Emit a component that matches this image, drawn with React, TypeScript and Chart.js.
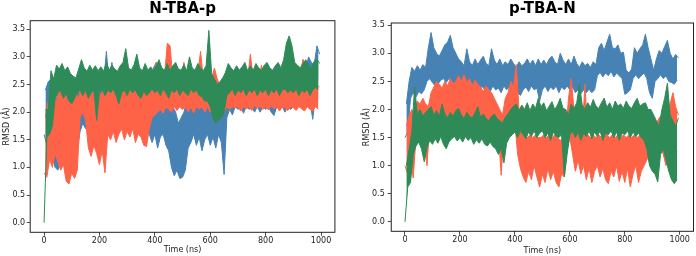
import React, { useEffect, useRef } from "react";
import { Chart, registerables } from "chart.js";
Chart.register(...registerables);
Chart.defaults.font.family = "'DejaVu Sans', sans-serif";

// sampling grid (ns): each bin holds the low and high value
const times = Array.from({ length: 100 }, (_, i) => i * 10);
const xTickValues = [0, 200, 400, 600, 800, 1000];
const yTickValues = [0, 0.5, 1, 1.5, 2, 2.5, 3, 3.5];

// ---- N-TBA-p ----
const ntbaBlueLow = [
  1.6, 1.4, 1.8, 1.2, 1.0, 0.95, 1.15, 1.4, 1.55, 1.6,
  1.8, 1.45, 1.3, 1.65, 1.8, 1.7, 1.85, 1.9, 1.75, 1.9,
  1.8, 1.95, 1.9, 1.85, 2.0, 1.9, 2.0, 1.85, 2.0, 1.95,
  2.0, 1.9, 1.95, 1.85, 2.0, 1.9, 1.75, 1.7, 1.6, 1.45,
  1.6, 1.35, 1.55, 1.6, 1.4, 1.3, 1.0, 0.85, 0.95, 0.8,
  0.82, 0.95, 1.35, 1.45, 1.6, 1.4, 1.55, 1.3, 1.5, 1.6,
  1.4, 1.55, 1.35, 1.6, 1.45, 0.87, 1.9, 2.05, 1.95, 2.1,
  2.05, 2.1, 1.98, 2.1, 2.05, 2.1, 2.0, 2.1, 2.0, 2.1,
  2.05, 2.1, 2.0, 1.94, 2.1, 2.05, 2.1, 2.0, 2.1, 2.05,
  2.1, 2.15, 2.2, 2.2, 2.25, 2.3, 2.2, 1.87, 2.3, 2.35,
];
const ntbaBlueHigh = [
  2.4, 2.55, 2.6, 2.3, 2.25, 2.45, 2.5, 2.3, 2.55, 2.4,
  2.6, 2.5, 2.4, 2.3, 2.45, 2.5, 2.4, 2.45, 2.5, 2.4,
  2.45, 2.5, 3.1, 2.5, 2.9, 2.5, 2.5, 2.55, 2.8, 2.5,
  2.6, 2.5, 2.55, 2.5, 2.6, 2.5, 2.55, 2.5, 2.6, 2.8,
  2.9, 2.4, 2.45, 2.35, 2.4, 2.3, 2.1, 2.0, 1.8, 1.9,
  2.0, 2.2, 2.3, 2.35, 2.4, 2.3, 2.35, 2.4, 2.3, 2.35,
  2.3, 2.4, 2.3, 2.35, 2.25, 2.2, 2.4, 2.45, 2.5, 2.45,
  2.5, 2.45, 2.5, 2.45, 2.5, 2.45, 2.5, 2.55, 2.5, 2.45,
  2.5, 2.55, 2.5, 2.45, 2.55, 2.5, 2.6, 2.55, 2.6, 2.7,
  2.6, 2.8, 2.7, 2.95, 2.8, 3.0, 2.9, 2.85, 3.2, 3.05,
];
const ntbaRedLow = [
  0.9, 0.82, 1.15, 1.0, 1.25, 1.1, 0.95, 1.05, 0.75, 0.7,
  0.9, 0.8, 0.95, 1.9, 2.0, 1.85, 1.35, 1.2, 1.4, 1.25,
  1.05, 1.3, 0.9, 1.6, 1.5, 1.65, 1.45, 1.6, 1.7, 1.5,
  1.65, 1.55, 1.7, 1.45, 1.6, 1.55, 1.4, 1.38, 1.7, 1.9,
  1.95, 2.0, 2.05, 1.98, 2.1, 2.05, 2.0, 2.1, 2.03, 2.1,
  2.05, 2.1, 2.0, 2.1, 1.98, 2.1, 2.05, 2.1, 2.0, 2.1,
  2.0, 2.05, 1.95, 2.0, 1.95, 2.0, 2.1, 2.05, 2.1, 2.08,
  2.1, 2.02, 2.1, 2.06, 2.1, 2.03, 2.12, 2.08, 2.1, 2.05,
  2.1, 2.04, 2.12, 2.06, 2.1, 2.02, 2.1, 2.07, 2.03, 2.1,
  2.08, 2.03, 2.1, 2.06, 2.02, 2.1, 2.05, 2.02, 2.1, 2.05,
];
const ntbaRedHigh = [
  1.9, 2.2, 2.05, 2.3, 2.2, 2.4, 2.25, 2.35, 2.2, 2.3,
  2.2, 2.35, 2.25, 2.5, 2.45, 2.4, 2.3, 2.4, 2.3, 2.45,
  2.3, 2.4, 2.3, 2.45, 2.35, 2.5, 2.4, 2.6, 2.4, 2.5,
  2.4, 2.55, 2.45, 2.4, 2.55, 2.45, 2.6, 2.65, 2.5, 2.65,
  2.9, 2.6, 2.55, 2.65, 3.25, 3.2, 2.6, 2.65, 2.55, 2.6,
  2.9, 2.55, 2.65, 2.55, 2.6, 2.7, 3.1, 2.6, 2.55, 2.7,
  2.6, 2.8, 2.6, 2.5, 2.4, 2.5, 2.55, 2.45, 2.55, 2.45,
  2.55, 2.6, 2.5, 2.6, 3.05, 2.6, 2.5, 2.6, 2.85, 2.5,
  2.6, 2.5, 2.45, 2.55, 2.6, 2.5, 2.45, 2.55, 2.6, 2.5,
  2.55, 2.6, 2.65, 2.95, 2.5, 2.45, 2.55, 2.6, 2.5, 2.45,
];
const ntbaGreenLow = [
  0.0, 1.55, 1.6, 1.75, 2.25, 2.35, 2.4, 2.25, 2.35, 2.2,
  2.15, 2.25, 2.35, 2.4, 2.3, 2.4, 2.25, 2.35, 2.4, 1.85,
  2.35, 2.42, 2.3, 2.4, 2.35, 2.42, 2.3, 2.15, 2.35, 2.4,
  2.3, 2.42, 2.35, 2.4, 2.3, 2.25, 2.38, 2.3, 2.35, 2.42,
  2.35, 2.4, 2.3, 2.42, 2.35, 2.25, 2.4, 2.35, 2.42, 2.3,
  2.4, 2.35, 2.3, 2.42, 2.35, 2.4, 2.3, 2.28, 2.2, 2.2,
  2.1, 1.9, 1.8, 1.85, 1.9, 2.0, 2.3, 2.35, 2.42, 2.3,
  2.4, 2.35, 2.42, 2.3, 2.4, 2.35, 2.42, 2.3, 2.4, 2.35,
  2.42, 2.3, 2.4, 2.35, 2.42, 2.3, 2.4, 2.42, 2.35, 2.4,
  2.35, 2.42, 2.3, 2.4, 2.35, 2.42, 2.3, 2.4, 2.45, 2.4,
];
const ntbaGreenHigh = [
  2.05, 2.05, 2.75, 2.6, 2.85, 2.78, 2.88, 2.75, 2.82, 2.7,
  2.65, 2.62, 2.78, 2.95, 2.8, 2.74, 2.85, 2.76, 2.84, 2.75,
  2.82, 2.74, 2.9, 2.76, 2.85, 2.78, 2.74, 2.84, 2.9, 3.15,
  2.8, 2.76, 2.86, 3.05, 2.8, 2.75, 2.88, 2.76, 2.82, 2.74,
  2.84, 2.95, 2.8, 2.76, 2.88, 2.75, 2.84, 2.9, 2.78, 2.76,
  2.86, 2.75, 3.0, 2.8, 2.76, 2.88, 2.8, 2.75, 2.84, 3.48,
  2.7, 2.6, 2.5, 2.55, 2.62, 2.72, 2.88, 2.8, 2.75, 2.84,
  2.76, 2.82, 2.9, 2.75, 2.84, 2.76, 2.88, 2.8, 2.75, 2.85,
  2.9, 2.8, 2.76, 2.84, 2.9, 2.8, 2.95, 3.25, 3.38, 3.2,
  2.9, 2.85, 2.8, 2.88, 2.95, 2.84, 2.8, 2.92, 2.96, 2.88,
];

// ---- p-TBA-N ----
const ptbaBlueLow = [
  1.5, 1.6, 2.2, 2.3, 2.22, 2.32, 2.28, 2.35, 2.5, 2.55,
  2.48, 2.42, 2.45, 2.52, 2.55, 2.48, 2.55, 2.5, 2.45, 2.4,
  2.35, 2.42, 2.38, 2.32, 2.42, 2.35, 2.4, 2.3, 2.42, 2.35,
  2.4, 2.32, 2.42, 2.35, 2.38, 2.3, 2.42, 2.35, 2.4, 2.3,
  2.2, 2.3, 2.25, 2.35, 2.4, 2.32, 2.42, 2.35, 2.38, 2.15,
  2.35, 2.42, 2.32, 2.4, 2.35, 2.42, 2.3, 2.4, 2.35, 2.42,
  2.35, 2.4, 2.3, 2.35, 2.28, 2.35, 2.3, 2.36, 2.3, 2.35,
  2.6, 2.66, 2.58, 2.65, 2.6, 2.68, 2.58, 2.65, 2.6, 2.55,
  2.27, 2.3, 2.35, 2.55, 2.62, 2.55, 2.6, 2.65, 2.55, 2.3,
  2.2, 2.5, 2.55, 2.62, 2.55, 2.6, 2.5, 2.48, 2.45, 2.52,
];
const ptbaBlueHigh = [
  2.1, 2.5, 2.75, 2.68, 2.78, 2.7, 2.8, 2.75, 3.1, 3.37,
  3.1, 3.0, 2.95, 3.05, 3.15, 3.2, 3.32, 3.1, 3.0, 2.9,
  2.85, 2.78, 3.08, 2.85, 2.78, 2.9, 2.8, 2.88, 2.95, 2.82,
  2.78, 3.08, 2.88, 2.8, 2.9, 2.78, 2.85, 2.8, 2.9, 2.82,
  2.75, 2.85, 2.78, 2.82, 2.9, 2.8, 2.88, 2.78, 2.9, 2.8,
  2.88, 2.8, 2.9, 2.95, 2.85, 2.8, 3.0, 2.88, 2.8, 2.9,
  2.8, 2.95, 2.82, 2.75, 2.85, 2.78, 2.82, 2.75, 2.85, 2.8,
  3.1, 3.18, 3.05, 3.2, 3.34, 3.1, 3.08, 3.15, 3.0, 3.02,
  2.7, 2.65, 2.72, 3.1, 3.0, 3.08, 3.15, 3.34, 3.1, 2.9,
  2.7, 2.9, 3.05, 3.0, 3.12, 3.23, 3.0, 2.9, 2.98, 2.92,
];
const ptbaRedLow = [
  1.0, 0.85, 1.1, 0.78, 1.5, 1.55, 1.6, 1.4, 1.0, 1.7,
  1.75, 1.8, 1.7, 1.75, 1.8, 1.7, 1.8, 1.75, 1.8, 1.85,
  1.8, 1.85, 1.8, 1.85, 1.75, 1.8, 1.75, 1.8, 1.7, 1.75,
  1.7, 1.75, 1.7, 1.65, 1.6, 0.83, 1.6, 1.7, 1.75, 1.7,
  1.75, 1.2, 0.95, 0.8, 0.7, 0.9, 0.75, 1.0, 0.8, 0.62,
  0.85, 0.7, 0.95, 0.75, 0.9, 0.7, 0.62, 0.85, 0.8, 1.3,
  1.5, 1.2, 0.9, 1.1, 0.85, 1.0, 0.75, 0.95, 0.7, 0.9,
  1.0, 0.8, 0.95, 0.75, 0.68, 0.9, 0.8, 1.0, 0.72, 0.9,
  0.7, 0.95, 0.62, 0.85, 1.0, 0.7, 0.9, 1.0, 1.1, 1.2,
  1.3, 1.25, 1.3, 1.35, 1.2, 1.0, 1.2, 1.3, 1.2, 1.25,
];
const ptbaRedHigh = [
  1.7, 1.9, 2.0, 1.9, 2.15, 2.1, 2.2, 2.1, 2.05, 2.3,
  2.4, 2.5, 2.45, 2.38, 2.5, 2.42, 2.55, 2.45, 2.5, 2.6,
  2.5, 2.62, 2.48, 2.55, 2.42, 2.52, 2.45, 2.4, 2.32, 2.42,
  2.35, 2.3, 2.2, 2.1, 2.0, 1.9, 2.2, 2.3, 2.5, 2.4,
  2.8, 2.0, 1.6, 1.55, 1.5, 1.55, 1.5, 1.55, 1.5, 1.5,
  1.55, 1.5, 1.55, 1.5, 1.55, 1.5, 1.45, 1.5, 1.55, 2.2,
  2.55, 2.0, 1.6, 1.55, 1.6, 2.45, 1.55, 1.5, 1.55, 1.5,
  1.55, 1.5, 2.2, 1.55, 1.5, 1.55, 1.5, 1.55, 1.5, 1.55,
  1.5, 1.55, 1.5, 1.55, 1.5, 1.55, 1.6, 1.65, 1.7, 1.65,
  1.7, 1.75, 1.85, 1.9, 1.7, 1.6, 2.1, 2.3, 2.05, 1.9,
];
const ptbaGreenLow = [
  0.0, 0.62, 0.7, 1.2, 1.35, 1.42, 1.3, 1.07, 1.32, 1.45,
  1.38, 1.48, 1.4, 1.52, 1.38, 1.3, 1.42, 1.48, 1.52, 1.44,
  1.5, 1.42, 1.52, 1.45, 1.5, 1.38, 1.46, 1.4, 1.48, 1.38,
  1.35, 1.42, 1.34, 1.3, 1.2, 1.32, 1.05, 1.4, 1.5, 1.55,
  1.6, 1.5, 1.62, 1.55, 1.48, 1.6, 1.52, 1.62, 1.5, 1.58,
  1.62, 1.5, 1.58, 1.45, 1.6, 1.52, 1.5, 1.55, 0.8, 1.2,
  1.55, 1.62, 1.5, 1.6, 1.45, 1.58, 1.52, 1.62, 1.48, 1.6,
  1.52, 1.62, 1.45, 1.58, 1.55, 1.62, 1.5, 1.6, 1.45, 1.58,
  1.55, 1.62, 1.5, 1.6, 1.52, 1.58, 1.5, 1.45, 1.3, 1.0,
  0.9, 0.85, 0.71, 1.2, 1.3, 1.1, 0.9, 0.75, 0.68, 0.75,
];
const ptbaGreenHigh = [
  1.0, 1.3, 1.6, 2.4, 1.92, 2.0, 1.88, 1.95, 2.0, 2.05,
  1.9, 1.98, 1.88, 2.1, 1.92, 1.85, 1.95, 1.88, 1.98, 2.02,
  1.9, 1.84, 1.95, 1.88, 1.85, 1.94, 2.05, 1.86, 1.92, 1.84,
  1.8, 1.88, 1.92, 1.84, 1.8, 1.76, 1.86, 1.92, 2.0, 2.06,
  2.1, 1.98, 2.08, 2.0, 2.12, 1.98, 2.1, 2.02, 2.2, 2.05,
  2.12, 1.98, 2.06, 2.14, 2.0, 2.08, 2.2, 2.02, 2.0, 1.9,
  2.1, 2.02, 2.12, 2.45, 2.08, 2.0, 2.12, 2.04, 2.18, 2.06,
  2.02, 2.12, 2.2, 2.04, 2.12, 2.0, 2.15, 2.06, 2.1, 2.02,
  2.15, 2.06, 2.02, 2.12, 2.2, 2.06, 2.1, 2.12, 2.0, 2.0,
  1.9, 1.8, 1.7, 2.0, 2.2, 2.47, 1.9, 1.8, 1.7, 1.85,
];

const BLUE = "#4682b4";
const RED = "#ff6347";
const GREEN = "#2e8b57";
const INK = "#222";

function pts(vals: number[], shift: number) {
  return vals.map((v, i) => ({ x: times[i] + shift, y: v }));
}

const framePlugin = {
  id: "frame",
  afterDatasetsDraw(chart: any) {
    const { ctx, chartArea } = chart;
    const { left, top, right, bottom } = chartArea;
    ctx.save();
    ctx.strokeStyle = INK;
    ctx.lineWidth = 1;
    ctx.strokeRect(left, top, right - left, bottom - top);
    ctx.restore();
  },
};

type PanelSpec = {
  title: string;
  blue: [number[], number[]];
  red: [number[], number[]];
  green: [number[], number[]];
  yMin: number;
  yMax: number;
  padLeft: number;
  padRight: number;
  yWidth: number;
  titleGap: number;
  xHeight: number;
  yTickPad: number;
  xTitlePad: number;
};

function makeConfig(p: PanelSpec): any {
  const tickFont = { family: "'DejaVu Sans', sans-serif", size: 8 };
  const common = { borderWidth: 1, pointRadius: 0, tension: 0 };
  const series = (pair: [number[], number[]], color: string, baseOrder: number) => [
    { ...common, data: pts(pair[0], 0), borderColor: color, backgroundColor: color, fill: false, order: baseOrder + 1 },
    { ...common, data: pts(pair[1], 5), borderColor: color, backgroundColor: color, fill: "-1", order: baseOrder },
  ];
  return {
    type: "line",
    data: {
      datasets: [...series(p.blue, BLUE, 5), ...series(p.red, RED, 3), ...series(p.green, GREEN, 1)],
    },
    options: {
      responsive: false,
      animation: false,
      devicePixelRatio: 1,
      events: [],
      layout: { padding: { left: p.padLeft, right: p.padRight, top: 0, bottom: 0 } },
      plugins: {
        legend: { display: false },
        tooltip: { enabled: false },
        filler: { propagate: false },
        title: {
          display: true,
          text: p.title,
          fullSize: false,
          color: "#000",
          font: { family: "'DejaVu Sans', sans-serif", size: 15, weight: "bold", lineHeight: 1.2 },
          padding: { top: 0, bottom: p.titleGap },
        },
      },
      scales: {
        x: {
          type: "linear",
          min: -50,
          max: 1050,
          afterBuildTicks: (s: any) => {
            s.ticks = xTickValues.map((v) => ({ value: v }));
          },
          afterFit: (s: any) => {
            s.height = p.xHeight;
          },
          ticks: {
            callback: (v: any) => String(v),
            font: tickFont,
            color: INK,
            padding: 0.5,
            maxRotation: 0,
            autoSkip: false,
          },
          grid: { display: true, drawOnChartArea: false, drawTicks: true, tickLength: 3.5, color: INK, lineWidth: 0.8 },
          border: { display: false },
          title: {
            display: true,
            text: "Time (ns)",
            color: INK,
            font: { family: "'DejaVu Sans', sans-serif", size: 8, lineHeight: 1.2 },
            padding: { top: 0, bottom: p.xTitlePad },
          },
        },
        y: {
          type: "linear",
          min: p.yMin,
          max: p.yMax,
          afterBuildTicks: (s: any) => {
            s.ticks = yTickValues.map((v) => ({ value: v }));
          },
          afterFit: (s: any) => {
            s.width = p.yWidth;
          },
          ticks: {
            callback: (v: any) => Number(v).toFixed(1),
            font: tickFont,
            color: INK,
            padding: p.yTickPad,
            autoSkip: false,
          },
          grid: { display: true, drawOnChartArea: false, drawTicks: true, tickLength: 3.5, color: INK, lineWidth: 0.8 },
          border: { display: false },
          title: {
            display: true,
            text: "RMSD (Å)",
            color: INK,
            font: { family: "'DejaVu Sans', sans-serif", size: 8, lineHeight: 1.2 },
            padding: { top: 2, bottom: 0 },
          },
        },
      },
    },
    plugins: [framePlugin],
  };
}

const leftSpec: PanelSpec = {
  title: "N-TBA-p",
  blue: [ntbaBlueLow, ntbaBlueHigh],
  red: [ntbaRedLow, ntbaRedHigh],
  green: [ntbaGreenLow, ntbaGreenHigh],
  yMin: -0.174,
  yMax: 3.655,
  padLeft: 0,
  padRight: 13.1,
  yWidth: 30.2,
  titleGap: 2.7,
  xHeight: 23.7,
  yTickPad: 1.5,
  xTitlePad: 1,
};

const rightSpec: PanelSpec = {
  title: "p-TBA-N",
  blue: [ptbaBlueLow, ptbaBlueHigh],
  red: [ptbaRedLow, ptbaRedHigh],
  green: [ptbaGreenLow, ptbaGreenHigh],
  yMin: -0.168,
  yMax: 3.54,
  padLeft: 12,
  padRight: 2.5,
  yWidth: 31.25,
  titleGap: 5,
  xHeight: 24.7,
  yTickPad: 3,
  xTitlePad: 0.7,
};

function Panel({ spec, left }: { spec: PanelSpec; left: number }) {
  const ref = useRef<HTMLCanvasElement | null>(null);
  useEffect(() => {
    if (!ref.current) return;
    const chart = new Chart(ref.current, makeConfig(spec));
    return () => chart.destroy();
  }, [spec]);
  return (
    <div style={{ position: "absolute", left, top: 0, width: 348, height: 256 }}>
      <canvas ref={ref} width={348} height={256} style={{ width: 348, height: 256, display: "block" }} />
    </div>
  );
}

export default function App() {
  return (
    <div style={{ position: "absolute", left: 0, top: 0, width: 696, height: 256, background: "#fff", overflow: "hidden" }}>
      <Panel spec={leftSpec} left={0} />
      <Panel spec={rightSpec} left={348} />
    </div>
  );
}
